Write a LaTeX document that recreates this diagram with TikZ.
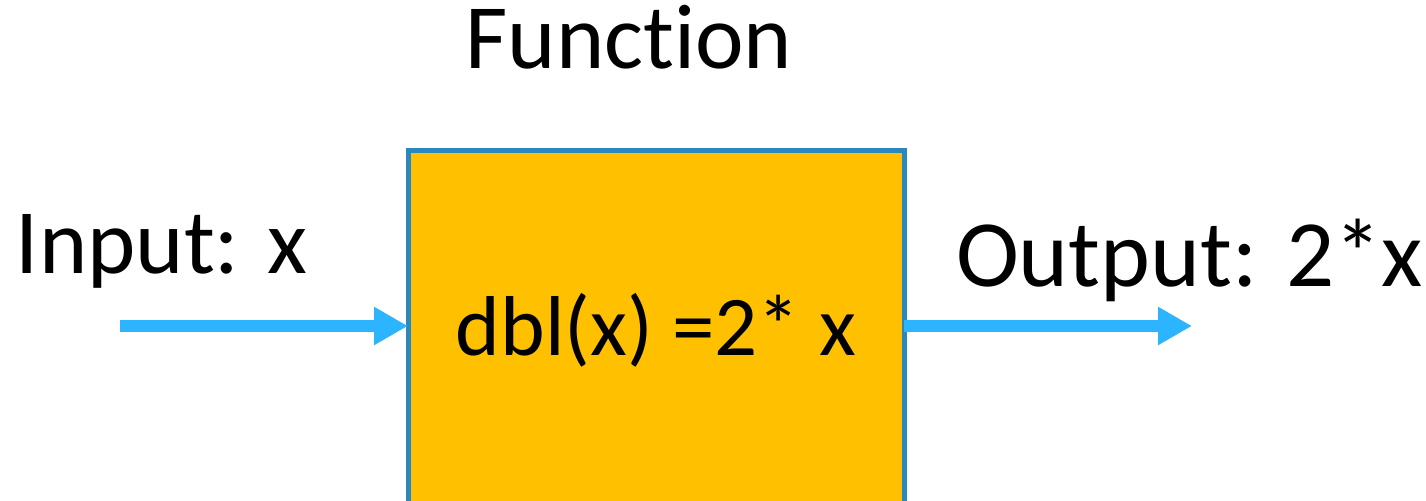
\documentclass[tikz,border=0pt]{standalone}
\usepackage{fontspec}
\setmainfont[Ligatures=NoCommon]{Carlito}
\usetikzlibrary{arrows.meta}
\definecolor{boxfill}{HTML}{FFC000}
\definecolor{boxline}{HTML}{2A88BE}
\definecolor{arrowblue}{HTML}{2DB4FF}
\tikzset{
  label text/.style={inner sep=0pt, outer sep=0pt, text=black},
  fnbox/.style={draw=boxline, fill=boxfill, line width=2.5pt, inner sep=0pt, outer sep=0pt},
  flow/.style={draw=arrowblue, line width=6pt, -{Triangle[length=17pt,width=18pt]}, shorten >=0pt},
}
\begin{document}
\begin{tikzpicture}[x=0.5pt,y=-0.5pt]
\useasboundingbox (0,0) rectangle (1426,500);
\clip (0,0) rectangle (1426,500);
\node[fnbox, minimum width=248pt, minimum height=180pt] (f) at (656,330) {};
\node[label text, anchor=base, font=\fontsize{46pt}{52pt}\selectfont] (title) at (629,68) {Function};
\node[label text, anchor=base west, font=\fontsize{46pt}{52pt}\selectfont] (inlbl) at (16,273) {Input: x};
\node[label text, anchor=base west, font=\fontsize{47.5pt}{55pt}\selectfont] (outlbl) at (956,286) {Output: 2*x};
\node[label text, anchor=base, font=\fontsize{42.5pt}{50pt}\selectfont] (expr) at (656,355) {dbl(x) =2* x};
\coordinate (instart) at (120,326);
\coordinate (outend) at (1192,326);
\draw[flow] (instart) -- (f.west |- instart);
\draw[flow] (f.east |- outend) -- (outend);
\end{tikzpicture}
\end{document}
